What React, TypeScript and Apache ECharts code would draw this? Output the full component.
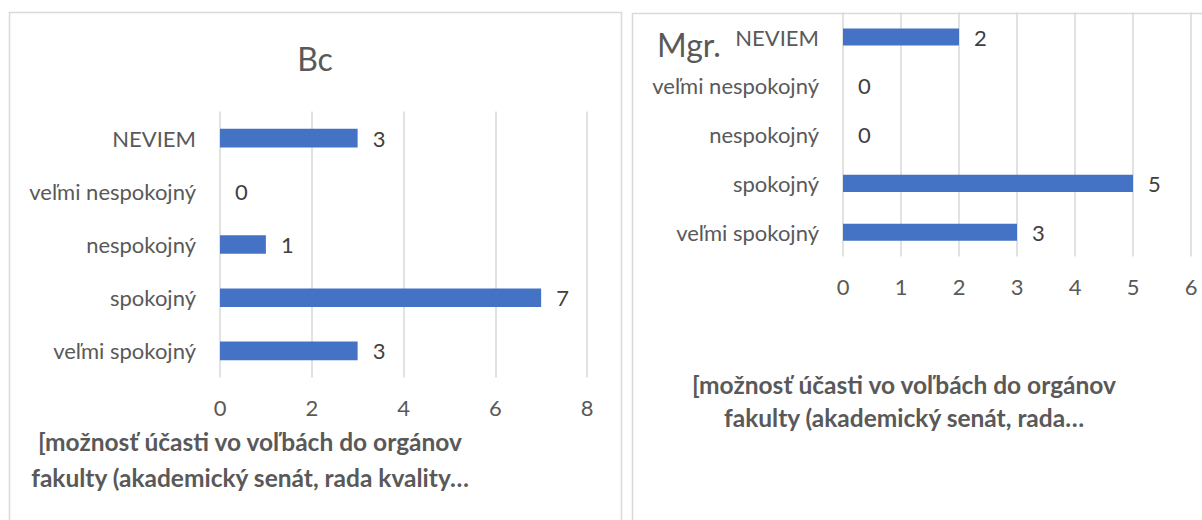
import React, { useEffect, useRef } from "react";
import * as echarts from "echarts";

const categories = ["NEVIEM", "veľmi nespokojný", "nespokojný", "spokojný", "veľmi spokojný"];
const bcValues = [3, 0, 1, 7, 3];
const mgrValues = [2, 0, 0, 5, 3];
const bcTitle = "Bc";
const mgrTitle = "Mgr.";
const axisTitleBc = ["[možnosť účasti vo voľbách do orgánov", "fakulty (akademický senát, rada kvality…"];
const axisTitleMgr = ["[možnosť účasti vo voľbách do orgánov", "fakulty (akademický senát, rada…"];

const FONT = "Lato";
const LABEL_COLOR = "#595959";
const BAR_COLOR = "#4472C4";
const GRID_COLOR = "#d9d9d9";

export default function App() {
  const ref = useRef<HTMLDivElement>(null);
  useEffect(() => {
    if (!ref.current) return;
    const chart = echarts.init(ref.current, undefined, { renderer: "svg" });
    const catAxis = (gridIndex: number) => ({
      type: "category",
      gridIndex,
      data: categories,
      inverse: true,
      axisLine: { show: false },
      axisTick: { show: false },
      axisLabel: { color: LABEL_COLOR, fontFamily: FONT, fontSize: 22, margin: 24 },
    });
    const valAxis = (gridIndex: number, max: number, interval: number) => ({
      type: "value",
      gridIndex,
      min: 0,
      max,
      interval,
      axisLine: { show: false },
      axisTick: { show: false },
      splitLine: { show: true, lineStyle: { color: GRID_COLOR, width: 1.5 } },
      axisLabel: { color: LABEL_COLOR, fontFamily: FONT, fontSize: 22, margin: 19 },
    });
    const series = (idx: number, data: number[]) => ({
      type: "bar",
      xAxisIndex: idx,
      yAxisIndex: idx,
      data,
      barCategoryGap: "65%",
      itemStyle: { color: BAR_COLOR },
      label: {
        show: true,
        position: "right",
        distance: 15,
        color: "#404040",
        fontFamily: FONT,
        fontSize: 22,
      },
    });
    const axisTitle = (cx: number, y1: number, y2: number, lines: string[]) =>
      lines.map((t, i) => ({
        type: "text",
        x: cx,
        y: i === 0 ? y1 : y2,
        style: {
          text: t,
          fill: LABEL_COLOR,
          font: `bold 24.5px ${FONT}`,
          textAlign: "center",
          textVerticalAlign: "middle",
        },
      }));
    chart.setOption({
      animation: false,
      backgroundColor: "#ffffff",
      grid: [
        { left: 220, top: 111.5, width: 367, height: 266, containLabel: false },
        { left: 843, top: 12.6, width: 348, height: 244, containLabel: false },
      ],
      xAxis: [valAxis(0, 8, 2), valAxis(1, 6, 1)],
      yAxis: [catAxis(0), catAxis(1)],
      series: [series(0, bcValues), series(1, mgrValues)],
      graphic: [
        {
          type: "rect",
          shape: { x: 9.5, y: 12.5, width: 612, height: 530 },
          style: { fill: "none", stroke: GRID_COLOR, lineWidth: 1.5 },
          z: -1,
        },
        {
          type: "rect",
          shape: { x: 632.5, y: 13.5, width: 600, height: 530 },
          style: { fill: "none", stroke: GRID_COLOR, lineWidth: 1.5 },
          z: -1,
        },
        {
          type: "text",
          x: 315,
          y: 58,
          style: {
            text: bcTitle,
            fill: LABEL_COLOR,
            font: `32px ${FONT}`,
            textAlign: "center",
            textVerticalAlign: "middle",
          },
        },
        {
          type: "text",
          x: 657,
          y: 44,
          style: {
            text: mgrTitle,
            fill: LABEL_COLOR,
            font: `32px ${FONT}`,
            textAlign: "left",
            textVerticalAlign: "middle",
          },
        },
        ...axisTitle(250, 441, 477, axisTitleBc),
        ...axisTitle(904, 384, 417, axisTitleMgr),
      ],
    });
    return () => chart.dispose();
  }, []);
  return (
    <div
      ref={ref}
      style={{ position: "absolute", left: 0, top: 0, width: 1202, height: 520 }}
    />
  );
}
